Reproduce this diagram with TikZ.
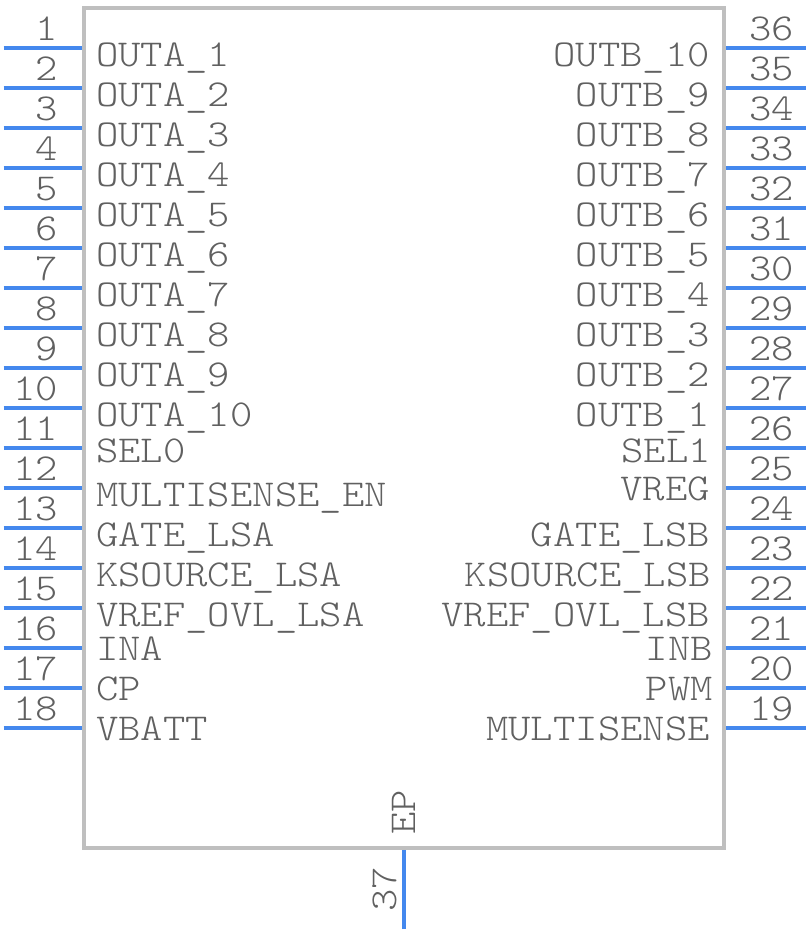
\documentclass[tikz,border=0pt]{standalone}
\usepackage{fontspec}
\setmonofont[FakeStretch=1.12]{Latin Modern Mono Light}
\usepackage{tikz}
\definecolor{bodygray}{HTML}{BFBFBF}
\definecolor{pinblue}{HTML}{4488EE}
\definecolor{textgray}{HTML}{606060}

\begin{document}
\begin{tikzpicture}[
    x=0.75pt, % one unit is one pixel of the reference
    y=-0.75pt,
    pinline/.style={draw=pinblue, line width=3pt}, % Blue pin lines
    chipbody/.style={draw=bodygray, line width=3pt, minimum width=480pt, minimum height=630pt, inner sep=0pt}, % Gray outline
    every node/.style={
        text=textgray,
        inner sep=0pt,
        font=\fontsize{28.5}{34}\selectfont\ttfamily
    },
    leftname/.style={anchor=base west},
    rightname/.style={anchor=base east},
    leftnum/.style={anchor=base east},
    rightnum/.style={anchor=base west},
]
\useasboundingbox (0,0) rectangle (808,932);

\node[chipbody] (body) at (404,428) {};

% Left side pins
\coordinate (p1) at (3.5,48);   \draw[pinline] (p1) -- (body.west |- p1);
\coordinate (p2) at (3.5,88);   \draw[pinline] (p2) -- (body.west |- p2);
\coordinate (p3) at (3.5,128);  \draw[pinline] (p3) -- (body.west |- p3);
\coordinate (p4) at (3.5,168);  \draw[pinline] (p4) -- (body.west |- p4);
\coordinate (p5) at (3.5,208);  \draw[pinline] (p5) -- (body.west |- p5);
\coordinate (p6) at (3.5,248);  \draw[pinline] (p6) -- (body.west |- p6);
\coordinate (p7) at (3.5,288);  \draw[pinline] (p7) -- (body.west |- p7);
\coordinate (p8) at (3.5,328);  \draw[pinline] (p8) -- (body.west |- p8);
\coordinate (p9) at (3.5,368);  \draw[pinline] (p9) -- (body.west |- p9);
\coordinate (p10) at (3.5,408); \draw[pinline] (p10) -- (body.west |- p10);
\coordinate (p11) at (3.5,448); \draw[pinline] (p11) -- (body.west |- p11);
\coordinate (p12) at (3.5,488); \draw[pinline] (p12) -- (body.west |- p12);
\coordinate (p13) at (3.5,528); \draw[pinline] (p13) -- (body.west |- p13);
\coordinate (p14) at (3.5,568); \draw[pinline] (p14) -- (body.west |- p14);
\coordinate (p15) at (3.5,608); \draw[pinline] (p15) -- (body.west |- p15);
\coordinate (p16) at (3.5,648); \draw[pinline] (p16) -- (body.west |- p16);
\coordinate (p17) at (3.5,688); \draw[pinline] (p17) -- (body.west |- p17);
\coordinate (p18) at (3.5,728); \draw[pinline] (p18) -- (body.west |- p18);

% Right side pins
\coordinate (p36) at (805.5,48);  \draw[pinline] (p36) -- (body.east |- p36);
\coordinate (p35) at (805.5,88);  \draw[pinline] (p35) -- (body.east |- p35);
\coordinate (p34) at (805.5,128); \draw[pinline] (p34) -- (body.east |- p34);
\coordinate (p33) at (805.5,168); \draw[pinline] (p33) -- (body.east |- p33);
\coordinate (p32) at (805.5,208); \draw[pinline] (p32) -- (body.east |- p32);
\coordinate (p31) at (805.5,248); \draw[pinline] (p31) -- (body.east |- p31);
\coordinate (p30) at (805.5,288); \draw[pinline] (p30) -- (body.east |- p30);
\coordinate (p29) at (805.5,328); \draw[pinline] (p29) -- (body.east |- p29);
\coordinate (p28) at (805.5,368); \draw[pinline] (p28) -- (body.east |- p28);
\coordinate (p27) at (805.5,408); \draw[pinline] (p27) -- (body.east |- p27);
\coordinate (p26) at (805.5,448); \draw[pinline] (p26) -- (body.east |- p26);
\coordinate (p25) at (805.5,488); \draw[pinline] (p25) -- (body.east |- p25);
\coordinate (p24) at (805.5,528); \draw[pinline] (p24) -- (body.east |- p24);
\coordinate (p23) at (805.5,568); \draw[pinline] (p23) -- (body.east |- p23);
\coordinate (p22) at (805.5,608); \draw[pinline] (p22) -- (body.east |- p22);
\coordinate (p21) at (805.5,648); \draw[pinline] (p21) -- (body.east |- p21);
\coordinate (p20) at (805.5,688); \draw[pinline] (p20) -- (body.east |- p20);
\coordinate (p19) at (805.5,728); \draw[pinline] (p19) -- (body.east |- p19);

% Bottom pin
\coordinate (p37) at (404,929); \draw[pinline] (p37) -- (body.south -| p37);

% Left numbers
\node[leftnum] (n1) at (58,40) {1};
\node[leftnum] (n2) at (58,80) {2};
\node[leftnum] (n3) at (58,120) {3};
\node[leftnum] (n4) at (58,160) {4};
\node[leftnum] (n5) at (58,200) {5};
\node[leftnum] (n6) at (58,240) {6};
\node[leftnum] (n7) at (58,280) {7};
\node[leftnum] (n8) at (58,320) {8};
\node[leftnum] (n9) at (58,360) {9};
\node[leftnum] (n10) at (58,400) {10};
\node[leftnum] (n11) at (58,440) {11};
\node[leftnum] (n12) at (58,480) {12};
\node[leftnum] (n13) at (58,520) {13};
\node[leftnum] (n14) at (58,560) {14};
\node[leftnum] (n15) at (58,600) {15};
\node[leftnum] (n16) at (58,640) {16};
\node[leftnum] (n17) at (58,680) {17};
\node[leftnum] (n18) at (58,720) {18};

% Right numbers
\node[rightnum] (n36) at (749,40) {36};
\node[rightnum] (n35) at (749,80) {35};
\node[rightnum] (n34) at (749,120) {34};
\node[rightnum] (n33) at (749,160) {33};
\node[rightnum] (n32) at (749,200) {32};
\node[rightnum] (n31) at (749,240) {31};
\node[rightnum] (n30) at (749,280) {30};
\node[rightnum] (n29) at (749,320) {29};
\node[rightnum] (n28) at (749,360) {28};
\node[rightnum] (n27) at (749,400) {27};
\node[rightnum] (n26) at (749,440) {26};
\node[rightnum] (n25) at (749,480) {25};
\node[rightnum] (n24) at (749,520) {24};
\node[rightnum] (n23) at (749,560) {23};
\node[rightnum] (n22) at (749,600) {22};
\node[rightnum] (n21) at (749,640) {21};
\node[rightnum] (n20) at (749,680) {20};
\node[rightnum] (n19) at (749,720) {19};

% Left names
\node[leftname] (a1) at (96,66) {OUTA\_1};
\node[leftname] (a2) at (96,106) {OUTA\_2};
\node[leftname] (a3) at (96,146) {OUTA\_3};
\node[leftname] (a4) at (96,186) {OUTA\_4};
\node[leftname] (a5) at (96,226) {OUTA\_5};
\node[leftname] (a6) at (96,266) {OUTA\_6};
\node[leftname] (a7) at (96,306) {OUTA\_7};
\node[leftname] (a8) at (96,346) {OUTA\_8};
\node[leftname] (a9) at (96,386) {OUTA\_9};
\node[leftname] (a10) at (96,426) {OUTA\_10};
\node[leftname] (a11) at (96,462) {SEL0};
\node[leftname] (a12) at (96,506) {MULTISENSE\_EN};
\node[leftname] (a13) at (96,546) {GATE\_LSA};
\node[leftname] (a14) at (96,586) {KSOURCE\_LSA};
\node[leftname] (a15) at (96,626) {VREF\_OVL\_LSA};
\node[leftname] (a16) at (96,660) {INA};
\node[leftname] (a17) at (96,700) {CP};
\node[leftname] (a18) at (96,740) {VBATT};

% Right names
\node[rightname] (b36) at (710,66) {OUTB\_10};
\node[rightname] (b35) at (710,106) {OUTB\_9};
\node[rightname] (b34) at (710,146) {OUTB\_8};
\node[rightname] (b33) at (710,186) {OUTB\_7};
\node[rightname] (b32) at (710,226) {OUTB\_6};
\node[rightname] (b31) at (710,266) {OUTB\_5};
\node[rightname] (b30) at (710,306) {OUTB\_4};
\node[rightname] (b29) at (710,346) {OUTB\_3};
\node[rightname] (b28) at (710,386) {OUTB\_2};
\node[rightname] (b27) at (710,426) {OUTB\_1};
\node[rightname] (b26) at (711,462) {SEL1};
\node[rightname] (b25) at (710,500) {VREG};
\node[rightname] (b24) at (710,546) {GATE\_LSB};
\node[rightname] (b23) at (711,586) {KSOURCE\_LSB};
\node[rightname] (b22) at (710,626) {VREF\_OVL\_LSB};
\node[rightname] (b21) at (713,660) {INB};
\node[rightname] (b20) at (713,700) {PWM};
\node[rightname] (b19) at (710,740) {MULTISENSE};

% Bottom pin texts
\node[anchor=base west, rotate=90] (ep) at (415,835) {EP};
\node[anchor=base west, rotate=90] (n37) at (396,912) {37};
\end{tikzpicture}
\end{document}
